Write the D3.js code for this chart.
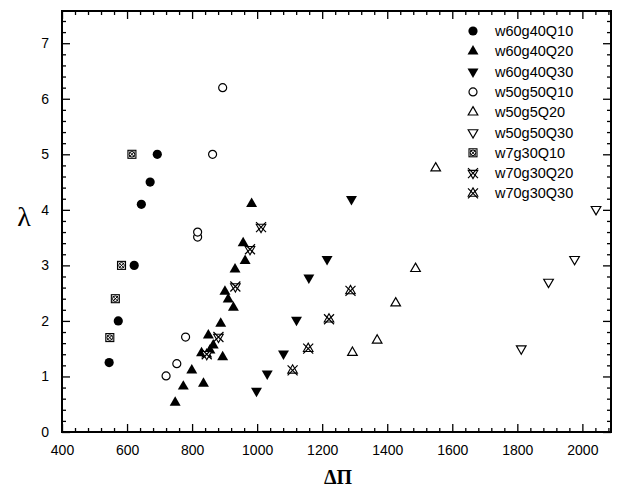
<!DOCTYPE html>
<html><head><meta charset="utf-8">
<script src="https://cdn.jsdelivr.net/npm/d3@7"></script>
<style>body{margin:0;background:#fff}svg{display:block}</style>
</head><body>
<svg id="c" width="618" height="491"></svg>
<script>
// ---- data (ΔΠ, λ) ----
const seriesNames = ["w60g40Q10","w60g40Q20","w60g40Q30","w50g50Q10","w50g5Q20","w50g50Q30","w7g30Q10","w70g30Q20","w70g30Q30"];
const w60g40Q10 = [[545,1.25],[573,2.0],[622,3.0],[644,4.1],[671,4.5],[693,5.0]];
const w60g40Q20 = [[748,0.53],[773,0.82],[799,1.11],[835,0.87],[829,1.42],[845,1.40],[855,1.47],[850,1.74],[865,1.56],[894,1.35],[888,1.95],[901,2.53],[911,2.39],[927,2.24],[932,2.93],[963,3.08],[957,3.40],[983,4.11]];
const w60g40Q30 = [[998,0.74],[1031,1.05],[1081,1.41],[1121,2.02],[1159,2.78],[1215,3.11],[1290,4.19]];
const w50g50Q10 = [[720,1.01],[753,1.23],[780,1.71],[817,3.51],[817,3.60],[863,5.0],[894,6.2]];
const w50g5Q20  = [[1293,1.43],[1369,1.65],[1426,2.32],[1487,2.94],[1549,4.75]];
const w50g50Q30 = [[1812,1.50],[1896,2.70],[1976,3.11],[2042,4.01]];
const w7g30Q10  = [[547,1.70],[564,2.40],[583,3.0],[615,5.0]];
const w70g30Q20 = [[845,1.40],[881,1.71],[933,2.62],[978,3.29],[1012,3.69]];
const w70g30Q30 = [[1109,1.11],[1157,1.50],[1221,2.03],[1287,2.54]];
const seriesData = [w60g40Q10,w60g40Q20,w60g40Q30,w50g50Q10,w50g5Q20,w50g50Q30,w7g30Q10,w70g30Q20,w70g30Q30];
const xMajor = [400,600,800,1000,1200,1400,1600,1800,2000];
const yMajor = [0,1,2,3,4,5,6,7];

// ---- layout ----
const L=62,R=611,T=11,B=432;
const svg=d3.select("#c");
const x=d3.scaleLinear().domain([400,2088]).range([L,R]);
const y=d3.scaleLinear().domain([0,7.58]).range([B,T]);
const xMinor=d3.range(400,2088,40).filter(v=>v%200!==0);
const yMinor=d3.range(0,7.59,0.2).map(v=>+v.toFixed(1)).filter(v=>Math.abs(v-Math.round(v))>1e-6);

function styleAxis(g){g.select(".domain").remove();g.selectAll(".tick line").attr("stroke","#000").attr("stroke-width",1.3);}
const font="'Liberation Sans', Arial, Helvetica, sans-serif";
// bottom
svg.append("g").attr("transform",`translate(0,${B})`).call(d3.axisBottom(x).tickValues(xMajor).tickSize(-8).tickPadding(13).tickFormat(d3.format("d"))).call(styleAxis)
  .selectAll("text").attr("font-family",font).attr("font-size",14).attr("fill","#000");
svg.append("g").attr("transform",`translate(0,${B})`).call(d3.axisBottom(x).tickValues(xMinor).tickSize(-4).tickFormat("")).call(styleAxis);
// top
svg.append("g").attr("transform",`translate(0,${T})`).call(d3.axisTop(x).tickValues(xMajor).tickSize(-8).tickFormat("")).call(styleAxis);
svg.append("g").attr("transform",`translate(0,${T})`).call(d3.axisTop(x).tickValues(xMinor).tickSize(-4).tickFormat("")).call(styleAxis);
// left
svg.append("g").attr("transform",`translate(${L},0)`).call(d3.axisLeft(y).tickValues(yMajor).tickSize(-8).tickPadding(13).tickFormat(d3.format("d"))).call(styleAxis)
  .selectAll("text").attr("font-family",font).attr("font-size",14).attr("fill","#000");
svg.append("g").attr("transform",`translate(${L},0)`).call(d3.axisLeft(y).tickValues(yMinor).tickSize(-4).tickFormat("")).call(styleAxis);
// right
svg.append("g").attr("transform",`translate(${R},0)`).call(d3.axisRight(y).tickValues(yMajor).tickSize(-8).tickFormat("")).call(styleAxis);
svg.append("g").attr("transform",`translate(${R},0)`).call(d3.axisRight(y).tickValues(yMinor).tickSize(-4).tickFormat("")).call(styleAxis);
// frame
svg.append("rect").attr("x",L).attr("y",T).attr("width",R-L).attr("height",B-T).attr("fill","none").attr("stroke","#000").attr("stroke-width",2);

// axis titles
svg.append("text").attr("x",24).attr("y",226).attr("text-anchor","middle").attr("font-family","'Liberation Serif','Times New Roman',serif").attr("font-size",28).text("λ");
svg.append("text").attr("x",338).attr("y",484).attr("text-anchor","middle").attr("font-family","'Liberation Serif','Times New Roman',serif").attr("font-size",20).attr("font-weight","bold").text("ΔΠ");

// markers
const triUp=d3.symbol().type(d3.symbolTriangle).size(52)();
const triUpS=d3.symbol().type(d3.symbolTriangle).size(40)();
function drawMarker(g,i){
  const s="#000";
  switch(i){
    case 0: g.append("circle").attr("r",4.6).attr("fill",s); break;
    case 1: g.append("path").attr("d",triUp).attr("fill",s); break;
    case 2: g.append("path").attr("d",triUp).attr("transform","rotate(180)").attr("fill",s); break;
    case 3: g.append("circle").attr("r",4).attr("fill","#fff").attr("stroke",s).attr("stroke-width",1.2); break;
    case 4: g.append("path").attr("d",triUpS).attr("fill","#fff").attr("stroke",s).attr("stroke-width",1.2); break;
    case 5: g.append("path").attr("d",triUpS).attr("transform","rotate(180)").attr("fill","#fff").attr("stroke",s).attr("stroke-width",1.2); break;
    case 6:
      g.append("rect").attr("x",-4).attr("y",-4).attr("width",8).attr("height",8).attr("fill","#fff").attr("stroke",s).attr("stroke-width",1.1);
      g.append("circle").attr("r",2.8).attr("fill","none").attr("stroke",s).attr("stroke-width",1);
      g.append("path").attr("d","M-2.8,-2.8L2.8,2.8M-2.8,2.8L2.8,-2.8").attr("stroke",s).attr("stroke-width",1);
      break;
    case 7:
      g.append("path").attr("d",triUpS).attr("transform","rotate(180)").attr("fill","#fff").attr("stroke",s).attr("stroke-width",1.1);
      g.append("path").attr("d","M-5,-5L5,5M-5,5L5,-5").attr("stroke",s).attr("stroke-width",1.2);
      break;
    case 8:
      g.append("path").attr("d",triUpS).attr("fill","#fff").attr("stroke",s).attr("stroke-width",1.1);
      g.append("path").attr("d","M-5,-5L5,5M-5,5L5,-5").attr("stroke",s).attr("stroke-width",1.2);
      break;
  }
}
seriesData.forEach((arr,i)=>{
  svg.append("g").selectAll("g").data(arr).join("g")
    .attr("transform",d=>`translate(${x(d[0])},${y(d[1])})`)
    .each(function(){drawMarker(d3.select(this),i);});
});

// legend
const lg=svg.append("g");
seriesNames.forEach((n,i)=>{
  const yy=31+i*20.3;
  const g=lg.append("g").attr("transform",`translate(473,${yy})`);
  drawMarker(g,i);
  lg.append("text").attr("x",495).attr("y",yy+5).attr("font-family",font).attr("font-size",14.5).text(n);
});
</script>
</body></html>
